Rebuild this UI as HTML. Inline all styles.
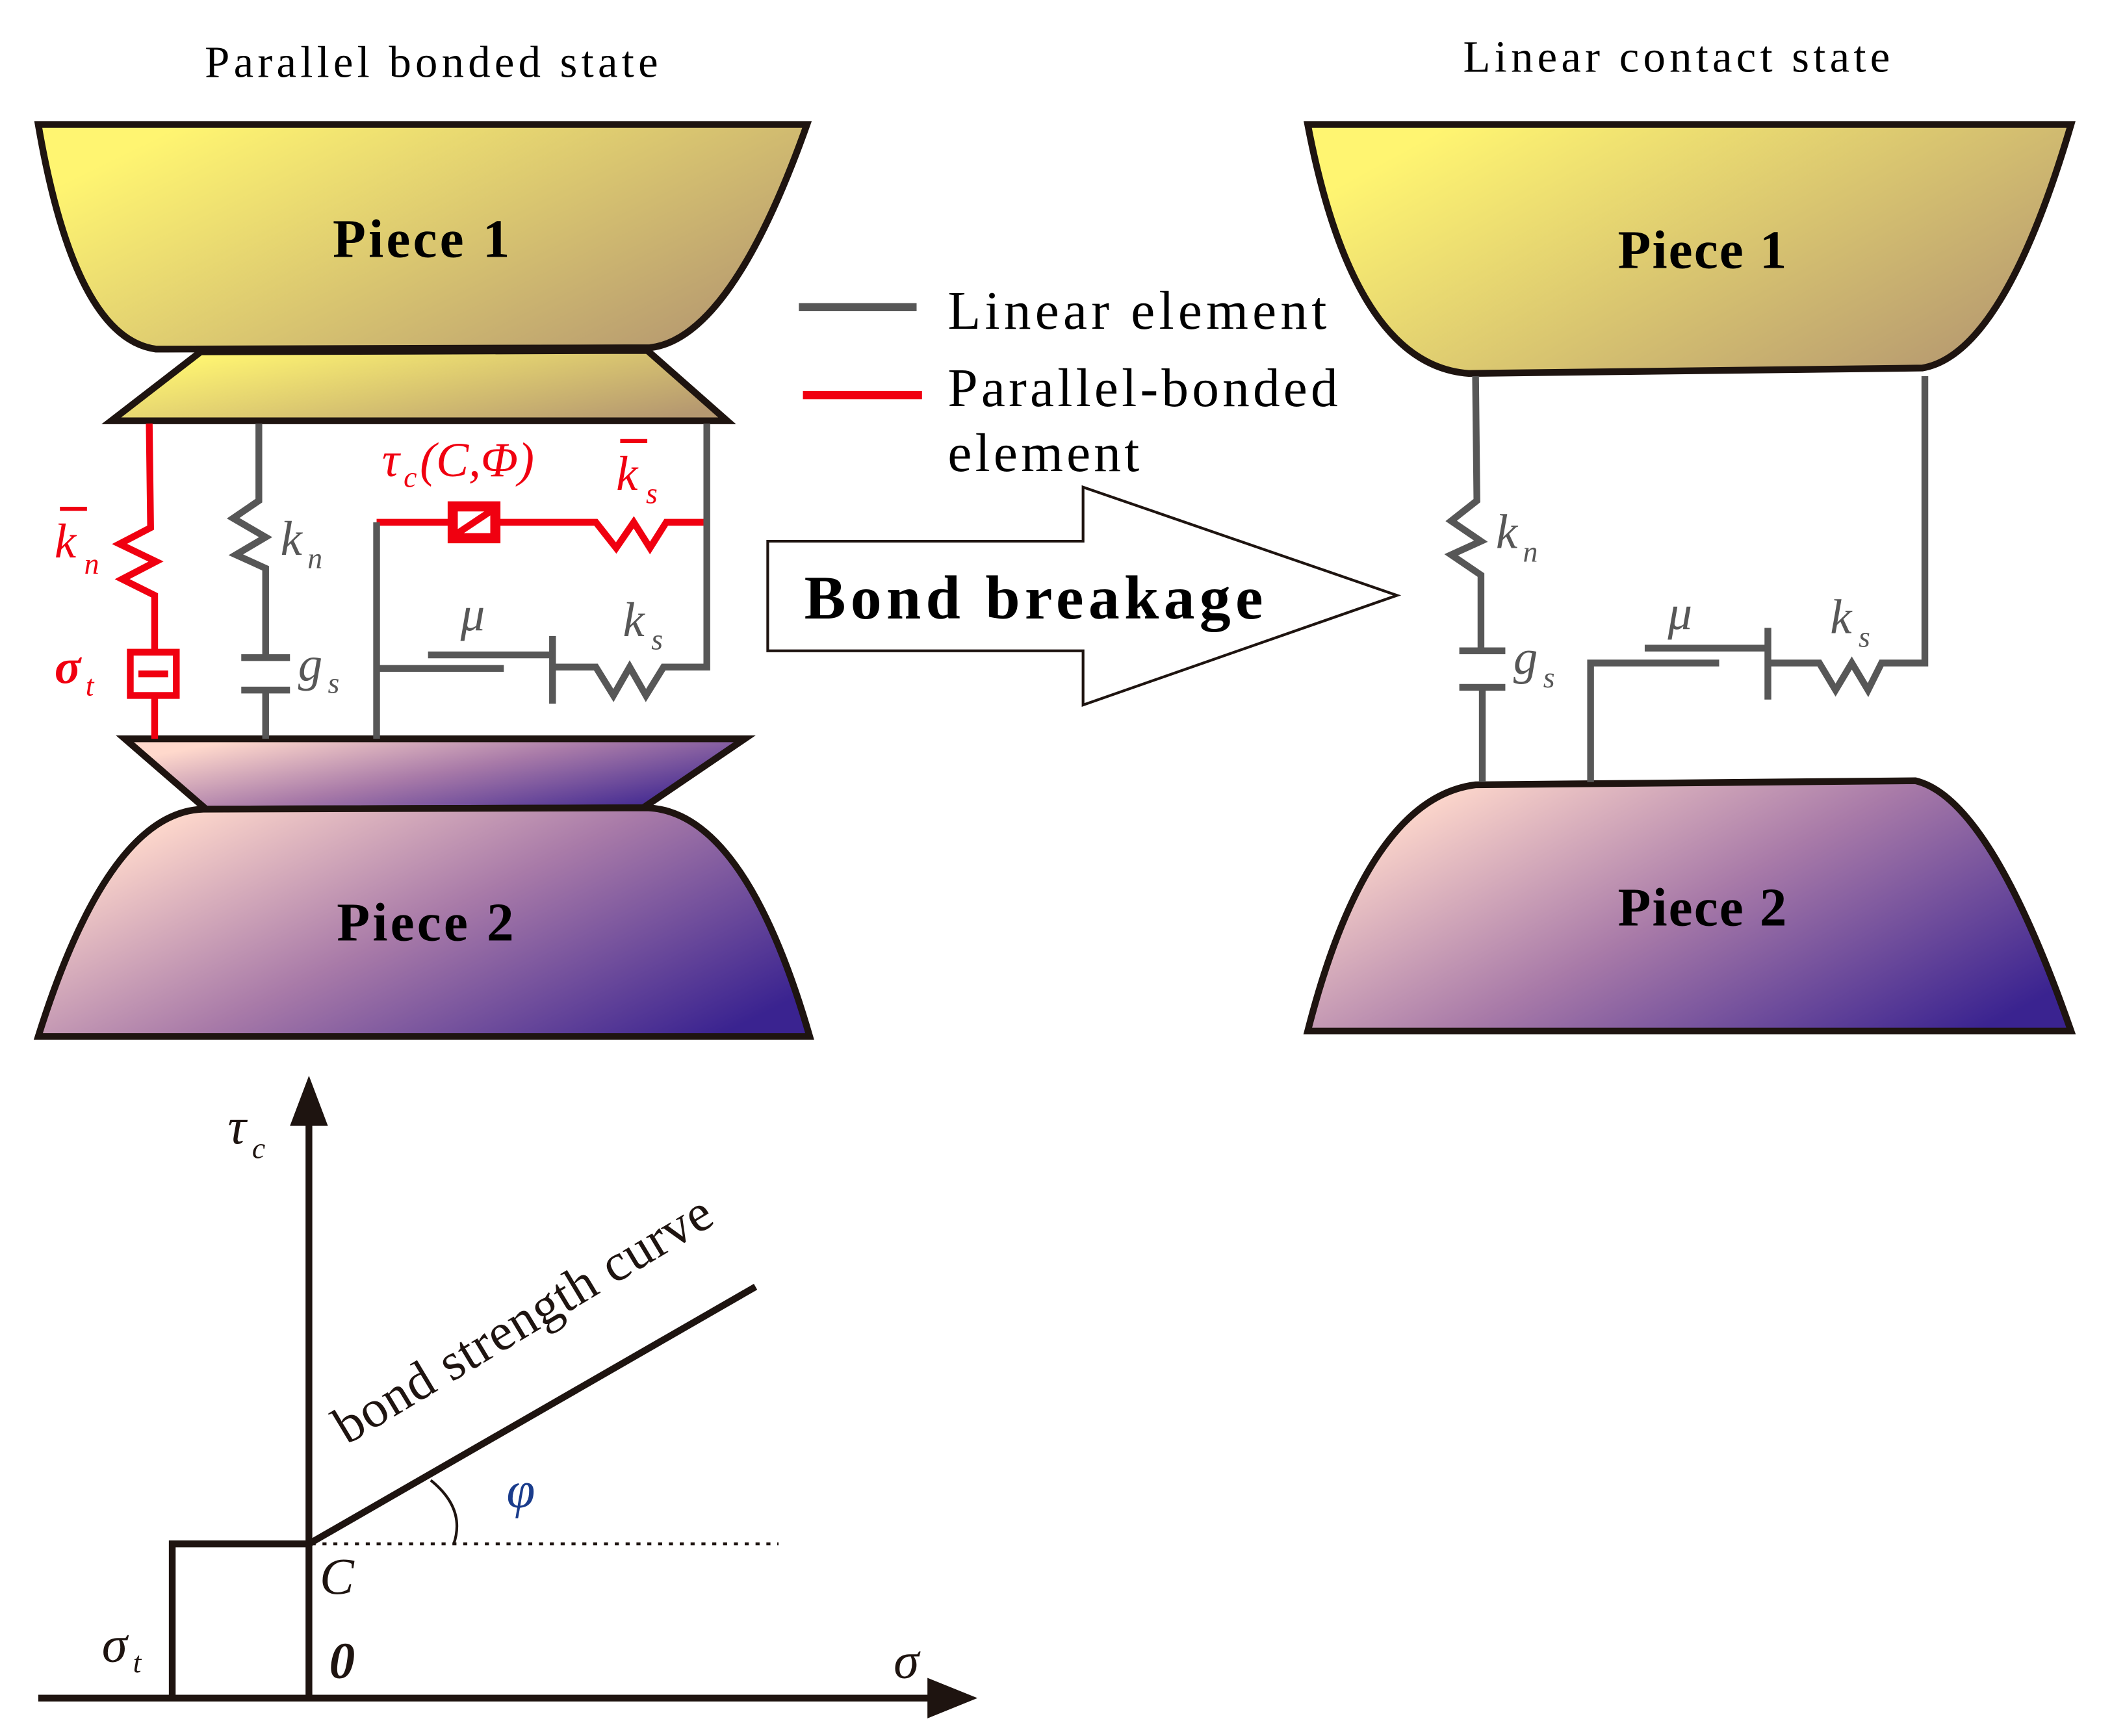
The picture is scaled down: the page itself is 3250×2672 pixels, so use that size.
<!DOCTYPE html>
<html><head><meta charset="utf-8"><style>
html,body{margin:0;padding:0;background:#fff}
svg{display:block}
text{font-family:"Liberation Serif",serif}
</style></head><body>
<svg width="3250" height="2672" viewBox="0 0 1560 1283" xmlns="http://www.w3.org/2000/svg">
<defs>
<linearGradient id="y" x1="0" y1="0.2" x2="1" y2="0.8"><stop offset="0.05" stop-color="#fff571"/><stop offset="1" stop-color="#b59870"/></linearGradient>
<linearGradient id="p" x1="0" y1="0.2" x2="1" y2="0.8"><stop offset="0.05" stop-color="#ffd9cc"/><stop offset="0.5" stop-color="#a87aa8"/><stop offset="1" stop-color="#3a2390"/></linearGradient>
</defs>
<text x="320" y="57" font-size="33" text-anchor="middle" letter-spacing="3">Parallel bonded state</text>
<text x="1240" y="53" font-size="33" text-anchor="middle" letter-spacing="3">Linear contact state</text>
<!-- left piece 1 -->
<path d="M28 92 L596 92 Q540 250 480 257 L115 258 Q55 250 28 92 Z" fill="url(#y)" stroke="#1e1410" stroke-width="5"/>
<path d="M148 260 L478 259 L537 311 L82 311 Z" fill="url(#y)" stroke="#1e1410" stroke-width="5"/>
<!-- left piece 2 -->
<path d="M92 546 L550 546 L475 597 L152 598 Z" fill="url(#p)" stroke="#1e1410" stroke-width="5"/>
<path d="M150 598 L478 597 Q550 600 598 766 L28 766 Q80 600 150 598 Z" fill="url(#p)" stroke="#1e1410" stroke-width="5"/>
<text x="312" y="190" font-size="40" font-weight="bold" text-anchor="middle" letter-spacing="2">Piece 1</text>
<text x="315" y="695" font-size="40" font-weight="bold" text-anchor="middle" letter-spacing="2">Piece 2</text>
<!-- red circuit -->
<g stroke="#f00010" stroke-width="5" fill="none">
<path d="M110 313 L111 390 L88 402 L115 415 L90 428 L114 440 L114 482"/>
<path d="M114 515 L114 546"/>
<rect x="96" y="482" width="34" height="32"/>
<line x1="102" y1="498" x2="124" y2="498"/>
<path d="M278 386 L332 386 M368 386 L440 386 L455 405 L468 386 L480 405 L492 386 L520 386"/>
<rect x="333" y="373" width="34" height="26" fill="#f00010"/>
</g>
<rect x="338" y="378" width="24" height="16" fill="#fff"/>
<line x1="338" y1="394" x2="362" y2="378" stroke="#f00010" stroke-width="5"/>
<!-- gray circuit left -->
<g stroke="#575757" stroke-width="5" fill="none">
<path d="M191 313 L191 370 L172 383 L196 397 L174 410 L196 420 L196 486"/>
<path d="M178 486 L214 486 M178 510 L214 510 M196 510 L196 546"/>
<path d="M278 546 L278 386"/>
<path d="M522 313 L522 493 L490 493 L477 514 L465 493 L453 514 L440 493 L408 493"/>
<path d="M408 470 L408 520"/>
<path d="M278 494 L372 494 M316 484 L408 484"/>
</g>
<!-- legend -->
<line x1="590" y1="227" x2="677" y2="227" stroke="#575757" stroke-width="6"/>
<line x1="593" y1="292" x2="681" y2="292" stroke="#f00010" stroke-width="6"/>
<text x="700" y="243" font-size="40" letter-spacing="3">Linear element</text>
<text x="700" y="300" font-size="40" letter-spacing="2.5">Parallel-bonded</text>
<text x="700" y="348" font-size="40" letter-spacing="2.5">element</text>
<!-- arrow -->
<path d="M567 400 L800 400 L800 360 L1032 440 L800 521 L800 481 L567 481 Z" fill="#fff" stroke="#1e1410" stroke-width="2"/>
<text x="594" y="457" font-size="46" font-weight="bold" letter-spacing="3.5">Bond breakage</text>
<!-- labels left -->
<g font-style="italic" font-size="36">
<text x="40" y="412" fill="#f00010">k</text><text x="62" y="424" fill="#f00010" font-size="22">n</text>
<line x1="44" y1="376" x2="64" y2="376" stroke="#f00010" stroke-width="3"/>
<text x="40" y="505" fill="#f00010" font-weight="bold">σ</text><text x="63" y="514" fill="#f00010" font-size="22">t</text>
<text x="207" y="410" fill="#575757">k</text><text x="227" y="420" fill="#575757" font-size="22">n</text>
<text x="220" y="503" fill="#575757">g</text><text x="242" y="512" fill="#575757" font-size="22">s</text>
<text x="282" y="352" fill="#f00010">τ</text><text x="298" y="360" fill="#f00010" font-size="22">c</text>
<text x="310" y="352" fill="#f00010">(C,Φ)</text>
<text x="455" y="362" fill="#f00010">k</text><text x="477" y="372" fill="#f00010" font-size="22">s</text>
<line x1="458" y1="326" x2="478" y2="326" stroke="#f00010" stroke-width="3"/>
<text x="340" y="466" fill="#575757">μ</text>
<text x="460" y="470" fill="#575757">k</text><text x="481" y="480" fill="#575757" font-size="22">s</text>
</g>
<!-- right pieces -->
<path d="M966 92 L1530 92 Q1480 262 1420 272 L1085 276 Q1000 270 966 92 Z" fill="url(#y)" stroke="#1e1410" stroke-width="5"/>
<path d="M1090 580 L1415 577 Q1470 590 1530 762 L966 762 Q1010 590 1090 580 Z" fill="url(#p)" stroke="#1e1410" stroke-width="5"/>
<text x="1258" y="198" font-size="40" font-weight="bold" text-anchor="middle" letter-spacing="1">Piece 1</text>
<text x="1258" y="684" font-size="40" font-weight="bold" text-anchor="middle" letter-spacing="1">Piece 2</text>
<g stroke="#575757" stroke-width="5" fill="none">
<path d="M1090 278 L1091 370 L1072 385 L1094 400 L1072 410 L1094 425 L1094 480"/>
<path d="M1078 481 L1112 481 M1078 508 L1112 508 M1095 508 L1095 578"/>
<path d="M1175 578 L1175 490 L1270 490 M1215 479 L1305 479"/>
<path d="M1306 464 L1306 517"/>
<path d="M1422 278 L1422 490 L1390 490 L1380 510 L1368 490 L1356 510 L1344 490 L1306 490"/>
</g>
<g font-style="italic" font-size="36" fill="#575757">
<text x="1105" y="405">k</text><text x="1125" y="415" font-size="22">n</text>
<text x="1118" y="498">g</text><text x="1140" y="508" font-size="22">s</text>
<text x="1232" y="465">μ</text>
<text x="1352" y="468">k</text><text x="1373" y="478" font-size="22">s</text>
</g>
<!-- graph -->
<g stroke="#1e1410" stroke-width="5" fill="none">
<line x1="228" y1="1255" x2="228" y2="828"/>
<line x1="28" y1="1255" x2="690" y2="1255"/>
<path d="M127 1253 L127 1141 L228 1141"/>
<line x1="228" y1="1141" x2="558" y2="951"/>
</g>
<path d="M228 795 L214 832 L242 832 Z" fill="#1e1410"/>
<path d="M722 1255 L685 1240 L685 1270 Z" fill="#1e1410"/>
<line x1="230" y1="1141" x2="575" y2="1141" stroke="#1e1410" stroke-width="2" stroke-dasharray="3,5"/>
<path d="M318 1094 Q344 1115 335 1141" fill="none" stroke="#1e1410" stroke-width="2"/>
<g font-style="italic" font-size="38" fill="#1e1410">
<text x="168" y="845">τ</text><text x="186" y="856" font-size="22">c</text>
<text x="374" y="1114" fill="#1a3c8c">φ</text>
<text x="236" y="1178">C</text>
<text x="243" y="1240" font-weight="bold">0</text>
<text x="75" y="1228">σ</text><text x="98" y="1236" font-size="22">t</text>
<text x="660" y="1240">σ</text>
<text x="256" y="1068" font-size="39" transform="rotate(-31 256 1068)" font-style="normal" letter-spacing="0.5">bond strength curve</text>
</g>
</svg>
</body></html>
